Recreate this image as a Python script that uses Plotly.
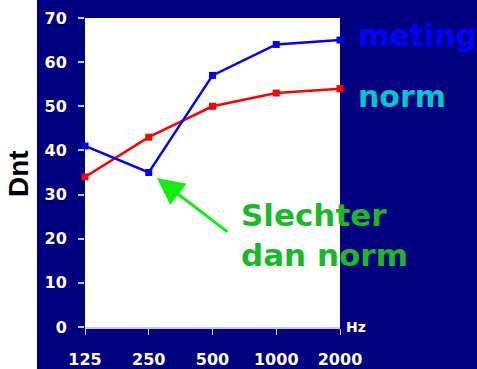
import plotly.graph_objects as go

freqs = ["125", "250", "500", "1000", "2000"]
meting = [41, 35, 57, 64, 65]
norm = [34, 43, 50, 53, 54]
y_ticks = [0, 10, 20, 30, 40, 50, 60, 70]

NAVY = "#000080"
W, H = 477, 369
L, R, T, B = 85, 137, 18, 42
PW, PH = W - L - R, H - T - B

def px(xp):
    return (xp - L) / PW

def py(yp):
    return (H - B - yp) / PH

fig = go.Figure()
fig.add_trace(go.Scatter(x=freqs, y=norm, mode="lines+markers",
                         line=dict(color="#FF0000", width=2.5),
                         marker=dict(symbol="square", size=7, color="#FF0000"),
                         cliponaxis=False, showlegend=False))
fig.add_trace(go.Scatter(x=freqs, y=meting, mode="lines+markers",
                         line=dict(color="#0000FF", width=2.5),
                         marker=dict(symbol="square", size=7, color="#0000FF"),
                         cliponaxis=False, showlegend=False))

tickfont = dict(family="DejaVu Sans", size=16, color="white", weight="bold")
fig.update_xaxes(type="category", range=[0, 4], showgrid=False, zeroline=False,
                 showline=True, linecolor="#C8C8E8", linewidth=1.5,
                 ticks="outside", ticklen=6, tickcolor="#C8C8E8", tickwidth=1,
                 tickfont=tickfont, ticklabelstandoff=11, automargin=False,
                 fixedrange=True)
fig.update_yaxes(range=[0, 70], tickvals=y_ticks, showgrid=False, zeroline=False,
                 showline=False, ticks="outside", ticklen=6, tickcolor="#C8C8E8",
                 tickwidth=1.5, tickfont=tickfont, ticklabelstandoff=8,
                 automargin=False, fixedrange=True)

fig.add_shape(type="rect", xref="paper", yref="paper",
              x0=px(0), x1=px(37), y0=py(H + 2), y1=py(-2),
              fillcolor="white", line=dict(width=0), layer="below")

annos = [
    dict(text="meting", x=px(356), y=py(35), xanchor="left", yanchor="middle",
         font=dict(family="DejaVu Sans", size=30, color="#0000FF", weight="bold")),
    dict(text="norm", x=px(356), y=py(97), xanchor="left", yanchor="middle",
         font=dict(family="DejaVu Sans", size=30, color="#00C8C8", weight="bold")),
    dict(text="Hz", x=px(344), y=py(327), xanchor="left", yanchor="middle",
         font=dict(family="DejaVu Sans", size=14, color="white", weight="bold")),
    dict(text="Dnt", x=px(18), y=py(174), xanchor="center", yanchor="middle",
         textangle=-90,
         font=dict(family="Liberation Sans", size=28, color="black", weight="bold")),
    dict(text="Slechter<br>dan norm", x=px(239), y=py(235), xanchor="left",
         yanchor="middle", align="left",
         font=dict(family="DejaVu Sans", size=31, color="#18BA28", weight="bold")),
]
for a in annos:
    fig.add_annotation(xref="paper", yref="paper", showarrow=False, **a)

fig.add_annotation(xref="paper", yref="paper", x=px(157), y=py(178),
                   ax=72, ay=55, axref="pixel", ayref="pixel", text="",
                   showarrow=True, arrowhead=2, arrowsize=1.8, arrowwidth=3,
                   arrowcolor="#11EE11")

fig.update_layout(width=W, height=H, autosize=False,
                  margin=dict(l=L, r=R, t=T, b=B, pad=0),
                  paper_bgcolor=NAVY, plot_bgcolor="white")

fig.write_html("out.html", config={"displayModeBar": False, "responsive": False},
               post_script="document.body.style.margin='0';document.body.style.overflow='hidden';")
